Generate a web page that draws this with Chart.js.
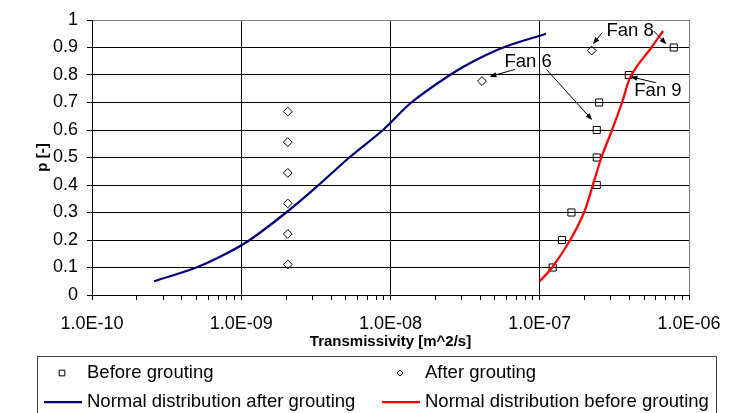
<!DOCTYPE html>
<html>
<head>
<meta charset="utf-8">
<script src="https://cdn.jsdelivr.net/npm/chart.js@4"></script>
<style>
  html, body { margin: 0; padding: 0; background: #fff; }
</style>
</head>
<body>
<canvas id="chart" width="748" height="413"></canvas>
<script>
// measured points (transmissivity m^2/s vs. cumulative probability)
const beforeX = [1.22e-7, 1.41e-7, 1.63e-7, 2.41e-7, 2.41e-7, 2.41e-7, 2.5e-7, 3.95e-7, 7.9e-7];
const beforeP = [0.1, 0.2, 0.3, 0.4, 0.5, 0.6, 0.7, 0.8, 0.9];
const afterX = [2.05e-9, 2.05e-9, 2.05e-9, 2.05e-9, 2.05e-9, 2.05e-9, 4.1e-8, 2.23e-7];
const afterP = [0.111, 0.222, 0.333, 0.444, 0.556, 0.667, 0.778, 0.889];

// fitted normal distributions
const fitAfterX = [2.6e-10, 5.0e-10, 7.9e-10, 1.14e-9, 2.0e-9, 3.3e-9, 5.3e-9, 8.9e-9, 1.38e-8, 2.5e-8, 3.6e-8, 5.7e-8, 1.1e-7];
const fitAfterP = [0.05, 0.1, 0.15, 0.2, 0.3, 0.4, 0.5, 0.6, 0.7, 0.8, 0.85, 0.9, 0.95];
const fitBeforeX = [1.0e-7, 1.21e-7, 1.6e-7, 1.98e-7, 2.27e-7, 2.59e-7, 3.05e-7, 3.56e-7, 4.11e-7, 5.6e-7, 6.7e-7];
const fitBeforeP = [0.05, 0.1, 0.2, 0.3, 0.4, 0.5, 0.6, 0.7, 0.8, 0.9, 0.96];

// callouts, anchored in data space
const callouts = [
  { text: 'Fan 6', x: 5.8e-8, p: 0.828,
    arrows: [[6.8e-8, 0.820, 4.6e-8, 0.794], [1.11e-7, 0.820, 2.25e-7, 0.636]] },
  { text: 'Fan 8', x: 2.8e-7, p: 0.941,
    arrows: [[2.62e-7, 0.954, 2.27e-7, 0.912], [5.8e-7, 0.960, 7.05e-7, 0.912]] },
  { text: 'Fan 9', x: 4.3e-7, p: 0.722,
    arrows: [[6.0e-7, 0.772, 4.05e-7, 0.794]] }
];

const FONT = 'Arial, "Liberation Sans", sans-serif';

function toPoints(xs, ys) {
  return xs.map((x, i) => ({ x: x, y: ys[i] }));
}

function isDecade(v) {
  const l = Math.log10(v);
  return Math.abs(l - Math.round(l)) < 1e-9;
}

// keep only 1..9 x 10^n on the log axis
function isWholeMantissa(v) {
  const m = v / Math.pow(10, Math.floor(Math.log10(v) + 1e-9));
  return Math.abs(m - Math.round(m)) < 1e-6;
}

function sciLabel(v) {
  const e = Math.round(Math.log10(v));
  const a = Math.abs(e);
  return '1.0E' + (e < 0 ? '-' : '+') + (a < 10 ? '0' + a : a);
}

function alignPx(p) {
  return Math.round(p - 0.5) + 0.5;
}

function drawArrow(ctx, x1, y1, x2, y2) {
  const ang = Math.atan2(y2 - y1, x2 - x1);
  const len = 7, half = 2.6;
  ctx.beginPath();
  ctx.moveTo(x1, y1);
  ctx.lineTo(x2 - Math.cos(ang) * len * 0.8, y2 - Math.sin(ang) * len * 0.8);
  ctx.stroke();
  ctx.beginPath();
  ctx.moveTo(x2, y2);
  ctx.lineTo(x2 - Math.cos(ang) * len + Math.sin(ang) * half, y2 - Math.sin(ang) * len - Math.cos(ang) * half);
  ctx.lineTo(x2 - Math.cos(ang) * len - Math.sin(ang) * half, y2 - Math.sin(ang) * len + Math.cos(ang) * half);
  ctx.closePath();
  ctx.fill();
}

// outward tick marks, incl. minor ones on the log axis
const tickPlugin = {
  id: 'tickMarks',
  afterDraw(chart) {
    const ctx = chart.ctx, area = chart.chartArea;
    const xs = chart.scales.x, ys = chart.scales.y;
    ctx.save();
    ctx.strokeStyle = '#000';
    ctx.lineWidth = 1;
    ctx.beginPath();
    xs.ticks.forEach(t => {
      const px = alignPx(xs.getPixelForValue(t.value));
      ctx.moveTo(px, area.bottom);
      ctx.lineTo(px, area.bottom + 5);
    });
    ys.ticks.forEach(t => {
      const py = alignPx(ys.getPixelForValue(t.value));
      ctx.moveTo(area.left - 5, py);
      ctx.lineTo(area.left, py);
    });
    ctx.stroke();
    ctx.restore();
  }
};

const calloutPlugin = {
  id: 'callouts',
  afterDatasetsDraw(chart) {
    const ctx = chart.ctx, xs = chart.scales.x, ys = chart.scales.y;
    ctx.save();
    ctx.fillStyle = '#000';
    ctx.strokeStyle = '#000';
    ctx.lineWidth = 1;
    ctx.font = '18.5px ' + FONT;
    ctx.textBaseline = 'alphabetic';
    ctx.textAlign = 'left';
    callouts.forEach(c => {
      ctx.fillText(c.text, xs.getPixelForValue(c.x), ys.getPixelForValue(c.p));
      c.arrows.forEach(a => {
        drawArrow(ctx, xs.getPixelForValue(a[0]), ys.getPixelForValue(a[1]),
          xs.getPixelForValue(a[2]), ys.getPixelForValue(a[3]));
      });
    });
    ctx.restore();
  }
};

// legend box at the bottom, two columns
const legendPlugin = {
  id: 'boxLegend',
  afterDraw(chart) {
    const ctx = chart.ctx;
    const ds = chart.data.datasets;
    ctx.save();
    ctx.strokeStyle = '#404040';
    ctx.lineWidth = 1;
    ctx.strokeRect(37.5, 356.5, 679, 80);
    ctx.font = '18.5px ' + FONT;
    ctx.textBaseline = 'middle';
    const items = [
      { d: ds[2], x: 40, y: 373 },
      { d: ds[3], x: 378, y: 373 },
      { d: ds[0], x: 40, y: 402 },
      { d: ds[1], x: 378, y: 402 }
    ];
    items.forEach(it => {
      const d = it.d;
      if (d.showLine) {
        ctx.strokeStyle = d.borderColor;
        ctx.lineWidth = d.borderWidth;
        ctx.beginPath();
        ctx.moveTo(it.x + 4, it.y);
        ctx.lineTo(it.x + 42, it.y);
        ctx.stroke();
      } else {
        ctx.strokeStyle = d.borderColor;
        ctx.fillStyle = '#fff';
        ctx.lineWidth = 1;
        Chart.helpers.drawPoint(ctx, { pointStyle: d.pointStyle, radius: d.pointStyle === 'rect' ? 4 : 3, borderWidth: 1 },
          it.x + 22, it.y);
      }
      ctx.fillStyle = '#000';
      ctx.fillText(d.label, it.x + 47, it.y);
    });
    ctx.restore();
  }
};

new Chart(document.getElementById('chart'), {
  type: 'scatter',
  data: {
    datasets: [
      {
        label: 'Normal distribution after grouting',
        data: toPoints(fitAfterX, fitAfterP),
        showLine: true,
        borderColor: '#000080',
        borderWidth: 2.25,
        pointRadius: 0,
        tension: 0.35,
        order: 0
      },
      {
        label: 'Normal distribution before grouting',
        data: toPoints(fitBeforeX, fitBeforeP),
        showLine: true,
        borderColor: '#ff0000',
        borderWidth: 2.25,
        pointRadius: 0,
        tension: 0.35,
        order: 0
      },
      {
        label: 'Before grouting',
        data: toPoints(beforeX, beforeP),
        pointStyle: 'rect',
        pointRadius: 5,
        borderColor: '#000',
        borderWidth: 1,
        backgroundColor: 'rgba(0,0,0,0)',
        order: 1
      },
      {
        label: 'After grouting',
        data: toPoints(afterX, afterP),
        pointStyle: 'rectRot',
        pointRadius: 4.4,
        borderColor: '#000',
        borderWidth: 1,
        backgroundColor: 'rgba(0,0,0,0)',
        order: 1
      }
    ]
  },
  options: {
    responsive: false,
    animation: false,
    layout: { padding: { left: 0, top: 20, right: 59, bottom: 60 } },
    plugins: {
      legend: { display: false },
      tooltip: { enabled: false }
    },
    scales: {
      x: {
        type: 'logarithmic',
        min: 1e-10,
        max: 1e-6,
        afterBuildTicks: s => { s.ticks = s.ticks.filter(t => isWholeMantissa(t.value)); },
        border: { color: '#000', width: 1 },
        grid: {
          color: ctx => {
            if (!ctx.tick || !isDecade(ctx.tick.value)) return 'rgba(0,0,0,0)';
            return ctx.tick.value > 9e-7 ? '#808080' : '#000';
          },
          tickColor: '#000',
          tickLength: 5
        },
        ticks: {
          autoSkip: false,
          maxRotation: 0,
          padding: 13,
          color: '#000',
          font: { family: FONT, size: 18 },
          callback: v => isDecade(v) ? sciLabel(v) : ''
        },
        title: {
          display: true,
          text: 'Transmissivity [m^2/s]',
          color: '#000',
          font: { family: FONT, size: 15, weight: 'bold' },
          padding: { top: 0, bottom: 2 }
        },
        afterFit: s => { s.height = 58; }
      },
      y: {
        min: 0,
        max: 1,
        border: { color: '#000', width: 1 },
        grid: {
          color: ctx => ctx.tick && ctx.tick.value > 0.99 ? '#808080' : '#000',
          tickColor: '#000',
          tickLength: 5
        },
        ticks: {
          stepSize: 0.1,
          padding: 9,
          color: '#000',
          font: { family: FONT, size: 18 },
          callback: v => String(+v.toFixed(1))
        },
        title: {
          display: true,
          text: 'p [-]',
          color: '#000',
          font: { family: FONT, size: 15, weight: 'bold' },
          padding: { top: 34, bottom: 0 }
        },
        afterFit: s => { s.width = 92; }
      }
    }
  },
  plugins: [tickPlugin, calloutPlugin, legendPlugin]
});
</script>
</body>
</html>
